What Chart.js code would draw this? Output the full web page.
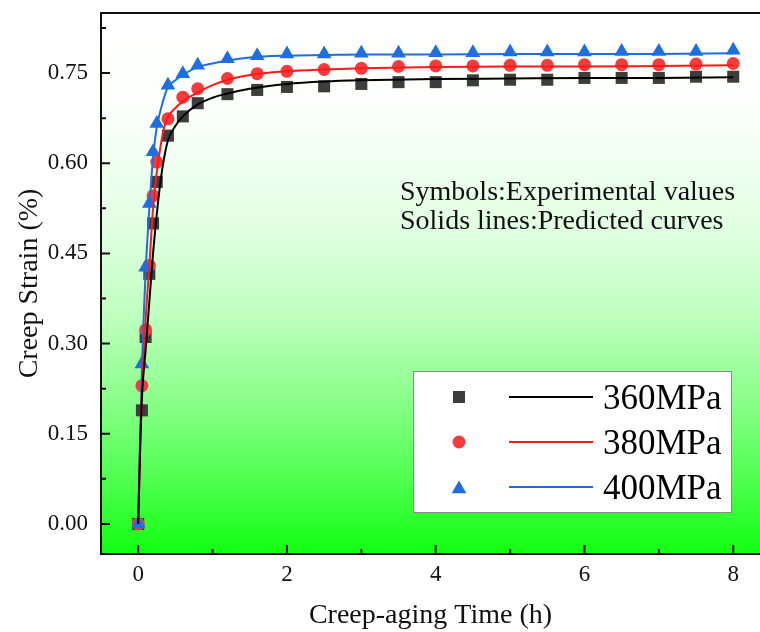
<!DOCTYPE html>
<html>
<head>
<meta charset="utf-8">
<script src="https://cdn.jsdelivr.net/npm/chart.js@4.4.1/dist/chart.umd.min.js"></script>
<style>
  body { margin: 0; background: #fff; }
  canvas { display: block; }
</style>
</head>
<body>
<canvas id="mycanvas" width="760" height="632"></canvas>
<script>
var seriesNames = ['360MPa', '380MPa', '400MPa'];

// experimental values (symbols)
var expTime = [0, 0.05, 0.1, 0.15, 0.2, 0.25, 0.4, 0.6, 0.8, 1.2, 1.6, 2, 2.5, 3, 3.5, 4, 4.5, 5, 5.5, 6, 6.5, 7, 7.5, 8];
var exp360 = [0, 0.189, 0.311, 0.416, 0.500, 0.569, 0.646, 0.678, 0.700, 0.715, 0.722, 0.727, 0.728, 0.732, 0.735, 0.735, 0.738, 0.739, 0.739, 0.742, 0.742, 0.742, 0.744, 0.744];
var exp380 = [0, 0.230, 0.323, 0.430, 0.546, 0.602, 0.674, 0.710, 0.724, 0.741, 0.749, 0.753, 0.756, 0.758, 0.761, 0.762, 0.762, 0.763, 0.763, 0.764, 0.764, 0.764, 0.765, 0.766];
var exp400 = [0, 0.266, 0.427, 0.533, 0.619, 0.666, 0.730, 0.749, 0.763, 0.774, 0.779, 0.782, 0.782, 0.783, 0.783, 0.784, 0.784, 0.785, 0.785, 0.785, 0.786, 0.786, 0.786, 0.788];

// predicted curves (solid lines)
var fitTime = [0, 0.025, 0.05, 0.1, 0.15, 0.2, 0.25, 0.3, 0.35, 0.4, 0.5, 0.6, 0.8, 1, 1.2, 1.5, 2, 2.5, 3, 4, 5, 6, 7, 8];
var fit360 = [0, 0.12, 0.21, 0.29, 0.37, 0.45, 0.515, 0.57, 0.61, 0.638, 0.662, 0.678, 0.698, 0.709, 0.716, 0.724, 0.732, 0.736, 0.738, 0.740, 0.741, 0.742, 0.742, 0.743];
var fit380 = [0, 0.12, 0.22, 0.34, 0.43, 0.525, 0.585, 0.628, 0.66, 0.677, 0.692, 0.703, 0.718, 0.730, 0.739, 0.747, 0.753, 0.756, 0.758, 0.760, 0.761, 0.761, 0.762, 0.763];
var fit400 = [0, 0.14, 0.26, 0.42, 0.525, 0.61, 0.66, 0.688, 0.71, 0.727, 0.738, 0.747, 0.760, 0.766, 0.771, 0.776, 0.779, 0.780, 0.781, 0.781, 0.782, 0.782, 0.782, 0.783];

var xTicks = [0, 2, 4, 6, 8];
var xMinor = [1, 3, 5, 7];
var yTicks = [0, 0.15, 0.30, 0.45, 0.60, 0.75];
var yMinor = [0.075, 0.225, 0.375, 0.525, 0.675, 0.825];

var serif = "'Times New Roman', 'Liberation Serif', serif";
var markColors = ['#3d3d3d', '#f53c3c', '#1f6ee0'];
var lineColors = ['#000000', '#ff1a1a', '#1f6ee0'];
var markStyles = ['rect', 'circle', 'triangle'];
var markRadius = [8.5, 6.5, 8.5];

function pts(xs, ys) {
  var out = [];
  for (var i in xs) out.push({x: xs[i], y: ys[i]});
  return out;
}

var expSets = [exp360, exp380, exp400];
var fitSets = [fit360, fit380, fit400];
var datasets = [];
for (var i = 0; i < 3; i++) {
  datasets.push({
    label: seriesNames[i] + ' fit',
    data: pts(fitTime, fitSets[i]),
    showLine: true,
    borderColor: lineColors[i],
    borderWidth: 2,
    pointRadius: 0,
    cubicInterpolationMode: 'monotone',
    order: 1
  });
  datasets.push({
    label: seriesNames[i],
    data: pts(expTime, expSets[i]),
    showLine: false,
    pointStyle: markStyles[i],
    pointRadius: markRadius[i],
    pointBackgroundColor: markColors[i],
    pointBorderWidth: 0,
    order: 4 - i   // later series sit on top, like the original
  });
}

function drawMark(ctx, style, x, y, r, color) {
  ctx.fillStyle = color;
  ctx.beginPath();
  if (style === 'rect') {
    var s = r * Math.SQRT1_2;
    ctx.rect(x - s, y - s, 2 * s, 2 * s);
  } else if (style === 'circle') {
    ctx.arc(x, y, r, 0, Math.PI * 2);
  } else {
    ctx.moveTo(x, y - r);
    ctx.lineTo(x + r * 0.866, y + r / 2);
    ctx.lineTo(x - r * 0.866, y + r / 2);
    ctx.closePath();
  }
  ctx.fill();
}

// no extra room for first/last tick labels: plot runs to the canvas edge
function noPad(scale) {
  scale.paddingTop = 0; scale.paddingBottom = 0;
  scale.paddingLeft = 0; scale.paddingRight = 0;
}

var decor = {
  id: 'decor',
  beforeDraw: function(chart) {
    var a = chart.chartArea, ctx = chart.ctx;
    var g = ctx.createLinearGradient(0, a.top, 0, a.bottom);
    g.addColorStop(0, '#ffffff');
    g.addColorStop(0.18, '#fbfffb');
    g.addColorStop(0.38, '#e4ffe4');
    g.addColorStop(0.55, '#c2ffc2');
    g.addColorStop(0.7, '#90ff90');
    g.addColorStop(0.85, '#55ff55');
    g.addColorStop(1, '#11ff11');
    ctx.save();
    ctx.fillStyle = g;
    ctx.fillRect(a.left, a.top, a.right - a.left, a.bottom - a.top);
    ctx.restore();
  },
  afterDatasetsDraw: function(chart) {
    var a = chart.chartArea, ctx = chart.ctx;
    var xs = chart.scales.x, ys = chart.scales.y;
    ctx.save();
    ctx.strokeStyle = '#111';
    ctx.lineWidth = 2;
    // spines
    ctx.beginPath();
    ctx.moveTo(a.right, a.top); ctx.lineTo(a.left, a.top);
    ctx.lineTo(a.left, a.bottom); ctx.lineTo(a.right, a.bottom);
    ctx.stroke();
    // inward ticks
    ctx.beginPath();
    xTicks.forEach(function(v) { var p = xs.getPixelForValue(v); ctx.moveTo(p, a.bottom); ctx.lineTo(p, a.bottom - 9); });
    xMinor.forEach(function(v) { var p = xs.getPixelForValue(v); ctx.moveTo(p, a.bottom); ctx.lineTo(p, a.bottom - 5); });
    yTicks.forEach(function(v) { var p = ys.getPixelForValue(v); ctx.moveTo(a.left, p); ctx.lineTo(a.left + 9, p); });
    yMinor.forEach(function(v) { var p = ys.getPixelForValue(v); ctx.moveTo(a.left, p); ctx.lineTo(a.left + 5, p); });
    ctx.stroke();

    // note text
    ctx.fillStyle = '#111';
    ctx.font = '28px ' + serif;
    ctx.textAlign = 'left';
    ctx.textBaseline = 'alphabetic';
    ctx.fillText('Symbols:Experimental values', 400, 200);
    ctx.fillText('Solids lines:Predicted curves', 400, 229);

    // legend box
    ctx.fillStyle = '#ffffff';
    ctx.fillRect(413, 371, 319, 142);
    ctx.strokeStyle = '#8a8a8a';
    ctx.lineWidth = 1;
    ctx.strokeRect(413.5, 371.5, 318, 141);
    var rows = [397, 442, 487];
    var legR = [8.5, 6.5, 8.5];
    for (var i = 0; i < 3; i++) {
      var ry = rows[i];
      drawMark(ctx, markStyles[i], 459, markStyles[i] === 'triangle' ? ry + 2 : ry, legR[i], markColors[i]);
      ctx.strokeStyle = lineColors[i];
      ctx.lineWidth = 2;
      ctx.beginPath();
      ctx.moveTo(509, ry); ctx.lineTo(593, ry);
      ctx.stroke();
      ctx.fillStyle = '#000';
      ctx.font = '35px ' + serif;
      ctx.fillText(seriesNames[i], 603, ry + 11.5);
    }
    ctx.restore();
  }
};

var ctx = document.getElementById('mycanvas').getContext('2d');
var creepChart = new Chart(ctx, {
  type: 'scatter',
  data: { datasets: datasets },
  options: {
    responsive: false,
    animation: false,
    layout: { autoPadding: false, padding: { top: 13, right: 0, left: 0, bottom: 0 } },
    plugins: {
      legend: { display: false },
      tooltip: { enabled: false }
    },
    scales: {
      x: {
        type: 'linear',
        min: -0.5,
        max: 8.36,
        afterFit: function(scale) { scale.height = 78; noPad(scale); },
        afterBuildTicks: function(scale) { scale.ticks = xTicks.map(function(v) { return {value: v}; }); },
        grid: { display: false, drawTicks: false },
        border: { display: false },
        ticks: { color: '#111', padding: 7, font: { family: serif, size: 23 } },
        title: { display: true, text: 'Creep-aging Time (h)', color: '#111', padding: { top: 0, bottom: 0 }, font: { family: serif, size: 28 } }
      },
      y: {
        type: 'linear',
        min: -0.05,
        max: 0.85,
        afterFit: function(scale) { scale.width = 101; noPad(scale); },
        afterBuildTicks: function(scale) { scale.ticks = yTicks.map(function(v) { return {value: v}; }); },
        grid: { display: false, drawTicks: false },
        border: { display: false },
        ticks: { color: '#111', padding: 13, font: { family: serif, size: 23 },
          callback: function(v) { return Number(v).toFixed(2); } },
        title: { display: true, text: 'Creep Strain (%)', color: '#111', padding: { top: 13, bottom: 0 }, font: { family: serif, size: 28 } }
      }
    }
  },
  plugins: [decor]
});
</script>
</body>
</html>
